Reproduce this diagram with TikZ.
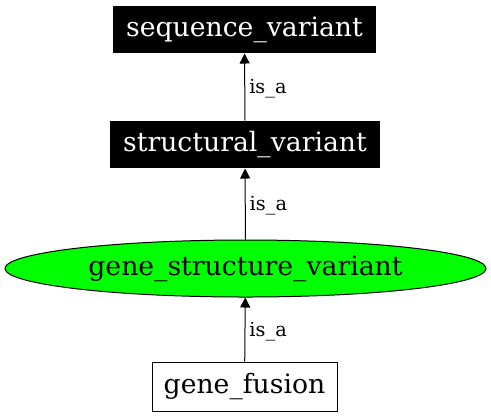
\documentclass[tikz,border=0pt]{standalone}
\usepackage{fontspec}
\setmainfont{DejaVu Serif}
\usetikzlibrary{arrows.meta,shapes.geometric}

\tikzset{
    termbox/.style = {rectangle, inner sep=0pt, line width=0.75pt, font=\fontsize{20}{22}\selectfont},
    isa/.style = {-{Triangle[length=7.5pt,width=7.5pt]}, line width=0.75pt},
    isalabel/.style = {right, inner sep=3pt, yshift=-1.5pt, font=\fontsize{14.5}{16}\selectfont}
}

\begin{document}
\begin{tikzpicture}[x=0.75pt,y=-0.75pt]
    \useasboundingbox (0,0) rectangle (491,419);

    \node[termbox, fill=black, text=white, minimum width=197.25pt, minimum height=35.25pt] (seqvar) at (244.5,29.5) {sequence\_variant};
    \node[termbox, fill=black, text=white, minimum width=202.5pt, minimum height=35.25pt] (structvar) at (245,144.5) {structural\_variant};
    \node[termbox, ellipse, draw=black, fill=green, minimum width=360.75pt, minimum height=42.75pt] (genestruct) at (245.5,268.5) {gene\_structure\_variant};
    \node[termbox, draw=black, fill=white, minimum width=138.75pt, minimum height=36.75pt] (genefusion) at (244.5,386.5) {gene\_fusion};

    \draw[isa] (genefusion) -- node[isalabel] {is\_a} (genestruct);
    \draw[isa] (genestruct) -- node[isalabel] {is\_a} (structvar);
    \draw[isa] (structvar) -- node[isalabel] {is\_a} (seqvar);
\end{tikzpicture}
\end{document}
